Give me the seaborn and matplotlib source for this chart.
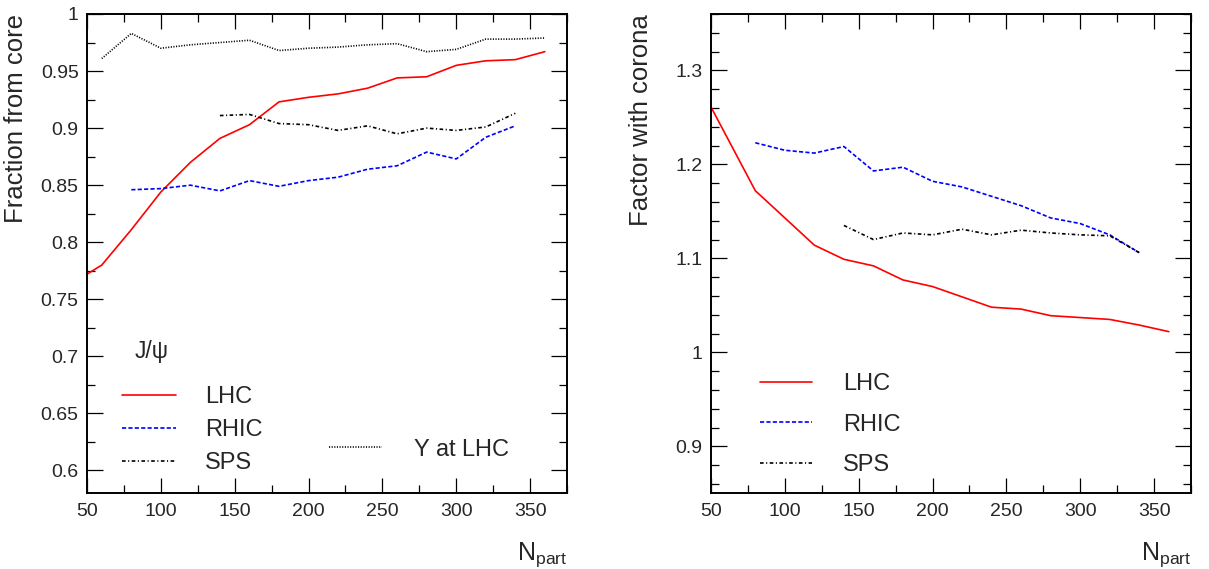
import matplotlib
matplotlib.use("Agg")
import matplotlib.pyplot as plt
import matplotlib.ticker as mticker
import seaborn as sns
import pandas as pd

# ---------------- data ----------------
# Left panel: fraction from core
x_lhc_l = [50, 60, 80, 100, 120, 140, 160, 180, 200, 220, 240, 260, 280, 300, 320, 340, 360]
y_lhc_l = [0.772, 0.780, 0.811, 0.844, 0.870, 0.891, 0.903, 0.923, 0.927, 0.930, 0.935,
           0.944, 0.945, 0.955, 0.959, 0.960, 0.967]
x_rhic_l = [80, 100, 120, 140, 160, 180, 200, 220, 240, 260, 280, 300, 320, 340]
y_rhic_l = [0.846, 0.847, 0.850, 0.845, 0.854, 0.849, 0.854, 0.857, 0.864, 0.867,
            0.879, 0.873, 0.892, 0.902]
x_sps_l = [140, 160, 180, 200, 220, 240, 260, 280, 300, 320, 340]
y_sps_l = [0.911, 0.912, 0.904, 0.903, 0.898, 0.902, 0.895, 0.900, 0.898, 0.901, 0.913]
x_ups_l = [60, 80, 100, 120, 140, 160, 180, 200, 220, 240, 260, 280, 300, 320, 340, 360]
y_ups_l = [0.961, 0.983, 0.970, 0.973, 0.975, 0.977, 0.968, 0.970, 0.971, 0.973,
           0.974, 0.967, 0.969, 0.978, 0.978, 0.979]

# Right panel: factor with corona
x_lhc_r = [50, 80, 120, 140, 160, 180, 200, 220, 240, 260, 280, 300, 320, 340, 360]
y_lhc_r = [1.261, 1.172, 1.114, 1.099, 1.092, 1.077, 1.070, 1.059, 1.048, 1.046,
           1.039, 1.037, 1.035, 1.029, 1.022]
x_rhic_r = [80, 100, 120, 140, 160, 180, 200, 220, 240, 260, 280, 300, 320, 340]
y_rhic_r = [1.223, 1.215, 1.212, 1.219, 1.193, 1.197, 1.182, 1.176, 1.166, 1.156,
            1.143, 1.137, 1.125, 1.106]
x_sps_r = [140, 160, 180, 200, 220, 240, 260, 280, 300, 320, 340]
y_sps_r = [1.135, 1.120, 1.127, 1.125, 1.131, 1.125, 1.130, 1.127, 1.125, 1.124, 1.106]

labels = ["LHC", "RHIC", "SPS"]

# ---------------- style ----------------
sns.set_style("ticks")
plt.rcParams["font.family"] = ["Liberation Sans", "DejaVu Sans"]
plt.rcParams["mathtext.fontset"] = "stix"
plt.rcParams["mathtext.default"] = "regular"
plt.rcParams["lines.scale_dashes"] = False

LW = 1.2
st_lhc = dict(color="#ff0000", linestyle="-")
st_rhic = dict(color="#0000ff", linestyle=(0, (3.0, 1.6)))
st_sps = dict(color="black", linestyle=(0, (2.6, 1.8, 0.8, 1.8)))
st_ups = dict(color="black", linestyle=(0, (0.8, 1.1)))

fig = plt.figure(figsize=(12.09, 5.69), dpi=100)
W, H = 1209, 569
def add_ax(x0, x1, y0, y1):
    return fig.add_axes([x0 / W, 1 - y1 / H, (x1 - x0) / W, (y1 - y0) / H])

axL = add_ax(87, 567, 14, 493.3)
axR = add_ax(711, 1191, 14, 493.3)

def draw(ax, x, y, st, label):
    sns.lineplot(x=x, y=y, ax=ax, lw=LW, sort=False, estimator=None,
                 label=label, legend=False, **st)

draw(axL, x_lhc_l, y_lhc_l, st_lhc, "LHC")
draw(axL, x_rhic_l, y_rhic_l, st_rhic, "RHIC")
draw(axL, x_sps_l, y_sps_l, st_sps, "SPS")
draw(axL, x_ups_l, y_ups_l, st_ups, r"$\Upsilon$ at LHC")

draw(axR, x_lhc_r, y_lhc_r, st_lhc, "LHC")
draw(axR, x_rhic_r, y_rhic_r, st_rhic, "RHIC")
draw(axR, x_sps_r, y_sps_r, st_sps, "SPS")

fmt = mticker.FuncFormatter(lambda v, p: f"{v:g}")
for ax in (axL, axR):
    ax.set_xlim(50, 375)
    ax.xaxis.set_major_locator(mticker.MultipleLocator(50))
    ax.xaxis.set_minor_locator(mticker.MultipleLocator(25))
    ax.tick_params(which="both", direction="in", top=True, right=True,
                   width=0.9, color="black", labelsize=14)
    ax.tick_params(axis="x", which="major", length=11, pad=7)
    ax.tick_params(axis="x", which="minor", length=5.5)
    ax.tick_params(axis="y", which="major", length=11.5, pad=6)
    ax.tick_params(axis="y", which="minor", length=6)
    ax.yaxis.set_major_formatter(fmt)
    for s in ax.spines.values():
        s.set_visible(True)
        s.set_linewidth(1.4)
        s.set_color("black")
    ax.set_xlabel(r"N$_{\mathregular{part}}$", fontsize=18, loc="right")
    ax.xaxis.set_label_coords(1.0, -0.098)

axL.set_ylim(0.58, 1.0)
axL.yaxis.set_major_locator(mticker.MultipleLocator(0.05))
axL.yaxis.set_minor_locator(mticker.MultipleLocator(0.025))
axL.set_ylabel("Fraction from core", fontsize=18.5, loc="top")
axL.yaxis.set_label_coords(-0.123, 1.0)

axR.set_ylim(0.85, 1.36)
axR.yaxis.set_major_locator(mticker.MultipleLocator(0.1))
axR.yaxis.set_minor_locator(mticker.MultipleLocator(0.02))
axR.set_ylabel("Factor with corona", fontsize=18.5, loc="top")
axR.yaxis.set_label_coords(-0.121, 1.0)

# ---------------- legends ----------------
hL = axL.get_lines()
leg1 = axL.legend(hL[:3], labels, loc="upper left", bbox_to_anchor=(0.072, 0.224),
                  frameon=False, fontsize=17, borderaxespad=0, borderpad=0,
                  handlelength=2.29, handletextpad=1.23, labelspacing=0.47)
axL.add_artist(leg1)
axL.legend([hL[3]], [r"$\Upsilon$ at LHC"], loc="upper left", bbox_to_anchor=(0.504, 0.114),
           frameon=False, fontsize=17, borderaxespad=0, borderpad=0,
           handlelength=2.25, handletextpad=1.31)
axL.text(0.10, 0.282, "J/ψ", transform=axL.transAxes, fontsize=16.5, va="baseline")

hR = axR.get_lines()
axR.legend(hR[:3], labels, loc="upper left", bbox_to_anchor=(0.102, 0.250),
           frameon=False, fontsize=17, borderaxespad=0, borderpad=0,
           handlelength=2.2, handletextpad=1.31, labelspacing=0.77)

fig.savefig("out.png", dpi=100)
